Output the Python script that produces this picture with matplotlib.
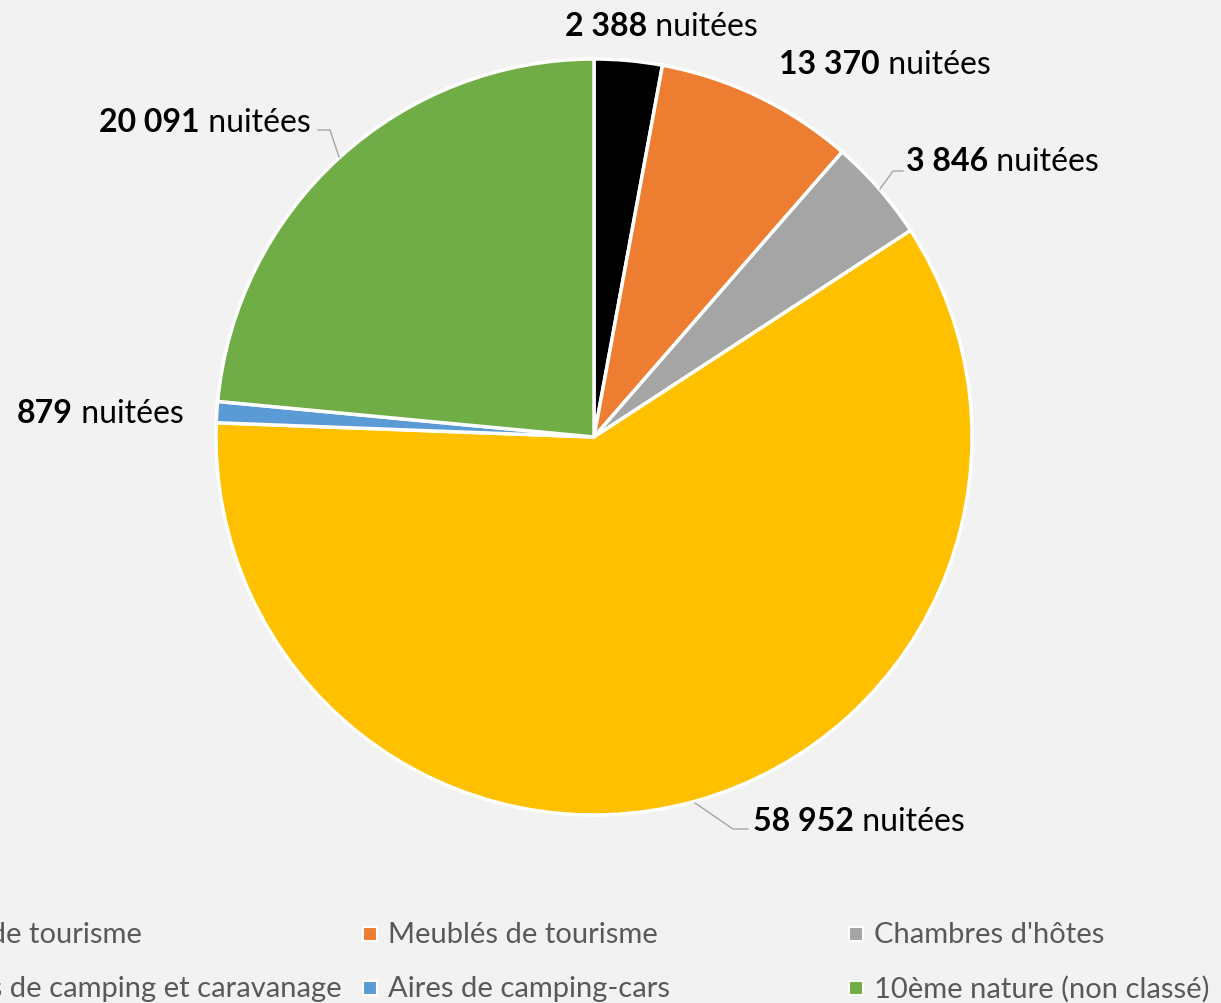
import matplotlib
matplotlib.use("Agg")
import matplotlib.pyplot as plt
from matplotlib.patches import Rectangle

plt.rcParams['font.family'] = ['Lato', 'DejaVu Sans']

# data
categories = ["Hôtels de tourisme", "Meublés de tourisme", "Chambres d'hôtes",
              "Terrains de camping et caravanage", "Aires de camping-cars",
              "10ème nature (non classé)"]
# slice sizes as drawn in the chart (percent)
shares = [2.9, 8.5, 4.4, 59.8, 0.9, 23.5]
# data label text
labels = ["2 388", "13 370", "3 846", "58 952", "879", "20 091"]
colors = ["#000000", "#ED7D31", "#A5A5A5", "#FFC000", "#5B9BD5", "#70AD47"]

W, H = 1221, 1004
cx, cy, R = 594, 438, 378
bg = "#F2F2F2"

fig = plt.figure(figsize=(W / 100, H / 100), dpi=100, facecolor=bg)
ax = fig.add_axes([(cx - R) / W, (H - cy - R) / H, 2 * R / W, 2 * R / H])
ax.set_facecolor(bg)
ax.pie(shares, colors=colors, startangle=90, counterclock=False, radius=1,
       wedgeprops=dict(edgecolor="white", linewidth=2.5))
ax.set_xlim(-1, 1)
ax.set_ylim(-1, 1)
ax.set_aspect("equal")
ax.axis("off")


def d(px, py):
    return (px - cx) / R, (cy - py) / R


# label placement (pixel coords of left edge, vertical centre)
label_pos = [(565, 27), (779, 65), (906, 162), (753, 822), (17, 414), (99, 123)]
fs = 23
for lab, (px, py) in zip(labels, label_pos):
    x, y = d(px, py)
    t = ax.text(x, y, lab, fontsize=fs, fontweight="bold", color="black",
                ha="left", va="center", clip_on=False)
    ax.annotate(" nuitées", xy=(1, 0.5), xycoords=t, fontsize=fs,
                color="black", ha="left", va="center", annotation_clip=False)

# leader lines
leaders = [
    [(880, 190), (893, 172), (903, 172)],
    [(695, 804), (733, 830), (748, 830)],
    [(339, 158), (330, 131), (318, 131)],
]
for pts in leaders:
    xs, ys = zip(*[d(px, py) for px, py in pts])
    ax.plot(xs, ys, color="#A6A6A6", lw=1.0, clip_on=False)

# legend (first column runs off the left edge)
col_x = [-120, 370, 856]
row_y = [935, 989]
for i, (name, c) in enumerate(zip(categories, colors)):
    mx = col_x[i % 3]
    my = row_y[i // 3]
    fig.patches.append(Rectangle(((mx - 7) / W, (H - my - 7) / H), 14 / W, 14 / H,
                                 transform=fig.transFigure, facecolor=c,
                                 edgecolor="white", lw=1.5))
    fig.text((mx + 18) / W, (H - my) / H, name, fontsize=21, color="#595959",
             ha="left", va="center")

fig.savefig("out.png", dpi=100, facecolor=bg)
